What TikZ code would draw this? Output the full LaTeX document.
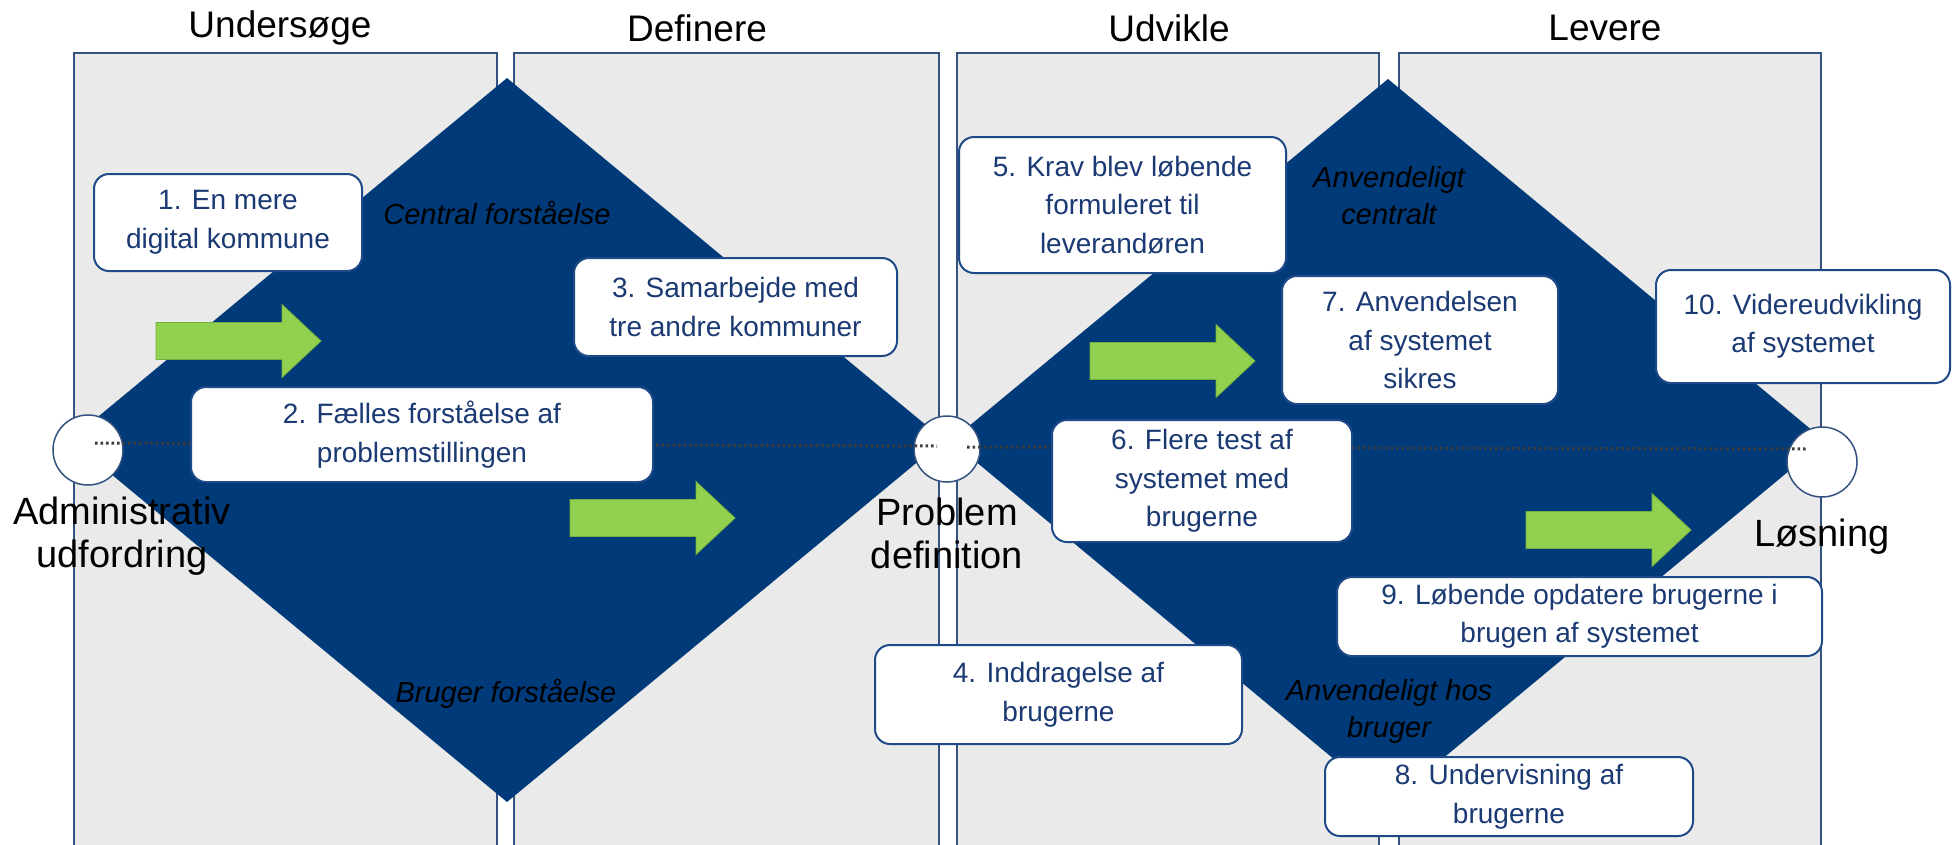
\documentclass[tikz,border=0pt]{standalone}
\usepackage{fontspec}
\setmainfont{Liberation Sans}
\definecolor{panelfill}{HTML}{EAEAEA}
\definecolor{panelline}{HTML}{34527F}
\definecolor{diamondblue}{HTML}{003A78}
\definecolor{boxline}{HTML}{1F4A88}
\definecolor{boxtext}{HTML}{1B3A73}
\definecolor{arrowgreen}{HTML}{92D050}
\definecolor{arrowline}{HTML}{74AE3E}
\definecolor{dotgray}{HTML}{3C3C3C}
\tikzset{
  panel/.style={fill=panelfill},
  panelborder/.style={draw=panelline, line width=1.2pt},
  diamondshape/.style={fill=diamondblue},
  textbox/.style={draw=boxline, line width=2pt, fill=white, rounded corners=15pt,
    text=boxtext, align=center, inner sep=0pt, font=\fontsize{28}{38.5}\selectfont},
  phase/.style={font=\fontsize{37}{40}\selectfont, text=black},
  milestone/.style={font=\fontsize{38}{43}\selectfont, text=black, align=center},
  axislabel/.style={font=\fontsize{29}{37}\selectfont\itshape, text=black, align=center},
  stagecircle/.style={circle, draw=panelline, line width=1.5pt, fill=white, inner sep=0pt},
  dotline/.style={draw=dotgray, line width=3pt, dash pattern=on 2.6pt off 2.9pt},
  arrowbody/.style={fill=arrowgreen, draw=arrowline, line width=0.8pt},
  blockarrow/.pic={\path[arrowbody] (0,-18.5) -- (126,-18.5) -- (126,-36.5) -- (165,0) -- (126,36.5) -- (126,18.5) -- (0,18.5) -- cycle;}
}
\begin{document}
\begin{tikzpicture}[x=1pt,y=-1pt]
\useasboundingbox (0,0) rectangle (1952,844);
% panels
\foreach \a/\b in {74/497,514/939,957/1379,1399/1821}{
  \fill[panel] (\a,53) rectangle (\b,846);
  \draw[panelborder] (\a,846) -- (\a,53) -- (\b,53) -- (\b,846);
}
% titles
\node[phase] (t1) at (280,28) {Undersøge};
\node[phase] (t2) at (697,28) {Definere};
\node[phase] (t3) at (1169,28) {Udvikle};
\node[phase] (t4) at (1605,28) {Levere};
% diamonds
\fill[diamondshape] (507,78) -- (944,440) -- (507,802) -- (70,440) -- cycle;
\fill[diamondshape] (1388,79) -- (1825,441) -- (1388,804) -- (951,441) -- cycle;
% circles
\node[stagecircle, minimum size=70pt] (c1) at (88,450) {};
\node[stagecircle, minimum size=66pt] (c2) at (947,449) {};
\node[stagecircle, minimum size=70pt] (c3) at (1822,462) {};
% dotted lines
\coordinate (d1s) at (95,443);
\coordinate (d1e) at (937,446);
\coordinate (d2s) at (967,447);
\coordinate (d2e) at (1808,449);
\draw[dotline] (d1s) -- (d1e);
\draw[dotline] (d2s) -- (d2e);
% milestone labels
\node[milestone] (m1) at (122,536) {Administrativ\\udfordring};
\node[milestone] (m2) at (947,533) {Problem\\definition};
\node[milestone] (m3) at (1822,537) {Løsning};
% axis labels
\node[axislabel] (l1) at (497,213) {Central forståelse};
\node[axislabel] (l2) at (506,694) {Bruger forståelse};
\node[axislabel] (l3) at (1389,196) {Anvendeligt\\centralt};
\node[axislabel] (l4) at (1389,711) {Anvendeligt hos\\bruger};
% green arrows
\pic at (156,341) {blockarrow};
\pic at (570,518) {blockarrow};
\pic at (1090,361) {blockarrow};
\pic at (1526,530) {blockarrow};
% text boxes
\node[textbox, minimum width=268pt, minimum height=97pt] (b1) at (228,222.5) {\raisebox{-4pt}{\parbox{260pt}{\centering 1. En mere\\digital kommune}}};
\node[textbox, minimum width=462pt, minimum height=95pt] (b2) at (422,434.5) {2. Fælles forståelse af\\problemstillingen};
\node[textbox, minimum width=323pt, minimum height=98pt] (b3) at (735.5,307) {3. Samarbejde med\\tre andre kommuner};
\node[textbox, minimum width=367pt, minimum height=99pt] (b4) at (1058.5,694.5) {4. Inddragelse af\\brugerne};
\node[textbox, minimum width=327pt, minimum height=136pt] (b5) at (1122.5,205) {5. Krav blev løbende\\formuleret til\\leverandøren};
\node[textbox, minimum width=300pt, minimum height=122pt] (b6) at (1202,481) {6. Flere test af\\systemet med\\brugerne};
\node[textbox, minimum width=276pt, minimum height=128pt] (b7) at (1420,340) {7. Anvendelsen\\af systemet\\sikres};
\node[textbox, minimum width=368pt, minimum height=79pt] (b8) at (1509,796.5) {8. Undervisning af\\brugerne};
\node[textbox, minimum width=485pt, minimum height=79pt] (b9) at (1579.5,616.5) {9. Løbende opdatere brugerne i\\brugen af systemet};
\node[textbox, minimum width=294pt, minimum height=113pt] (b10) at (1803,326.5) {10. Videreudvikling\\af systemet};
\end{tikzpicture}
\end{document}
